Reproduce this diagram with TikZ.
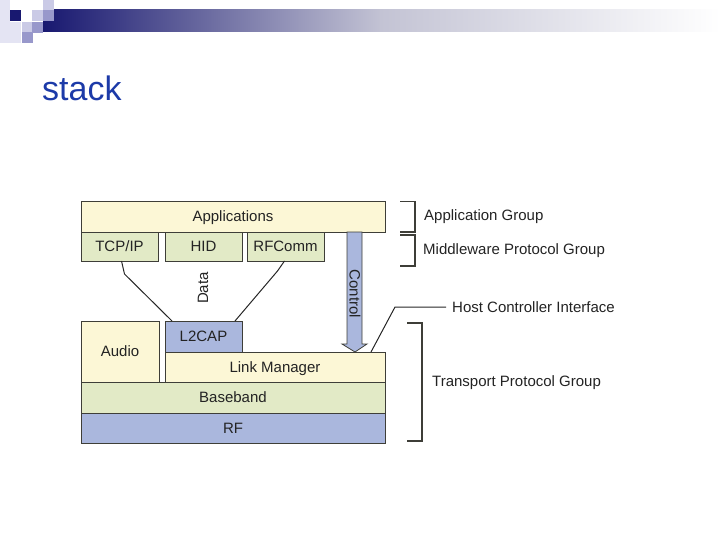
\documentclass[tikz,border=0pt]{standalone}
\usepackage{fontspec}
\setmainfont{Liberation Sans}
\definecolor{creamc}{RGB}{252,247,214}
\definecolor{greenc}{RGB}{226,234,198}
\definecolor{bluec}{RGB}{170,183,221}
\definecolor{edgec}{RGB}{62,62,56}
\definecolor{inkc}{RGB}{35,35,35}
\definecolor{navyc}{RGB}{24,24,112}
\definecolor{fadec}{RGB}{195,195,212}
\definecolor{titlec}{RGB}{28,58,168}
\definecolor{lavA}{RGB}{228,228,243}
\definecolor{lavB}{RGB}{202,202,230}
\definecolor{lavC}{RGB}{152,152,203}

\begin{document}
\begin{tikzpicture}[x=1pt,y=-1pt]
	\tikzset{layer/.style={draw=edgec, line width=0.8pt, inner sep=0pt, outer sep=0pt, anchor=north west, text=inkc, text height=10.5pt, text depth=0pt, font=\fontsize{15}{17}\selectfont},
		lbl/.style={anchor=west, inner sep=2pt, text=inkc, font=\fontsize{15}{17}\selectfont},
		wire/.style={draw=black!85, line width=1pt},
		brace/.style={draw=edgec, line width=1.1pt}}
	\def \rowh {31}
	\useasboundingbox (0,0) rectangle (720,540);
	
	% slide decoration
	\shade[left color=navyc, right color=fadec] (43,10) rectangle (381,32);
	\shade[left color=fadec, right color=white] (380,10) rectangle (720,32);
	\fill[lavA] (0,0) rectangle (10,43);
	\foreach \cx/\cy/\sq in {10/10/navyc, 10/22/lavA, 10/32/lavA, 22/22/lavB, 22/32/lavC, 32/10/lavB, 32/22/lavC, 43/0/lavB, 43/10/lavC}{
		\fill[\sq] (\cx,\cy) rectangle ++(11,11);
	}
	\node[anchor=base west, inner sep=0pt, text=titlec, font=\fontsize{34}{38}\selectfont] (title) at (42,101) {stack};
	
	% protocol stack
	\node[layer, fill=creamc, minimum width=304, minimum height=\rowh] (app) at (81,201) {Applications};
	\foreach \name/\xo/\txt in {tcp/81/{TCP/IP}, hid/165/HID, rfc/247/RFComm}{
		\node[layer, fill=greenc, minimum width=77, minimum height=29] (\name) at (\xo,232) {\txt};
	}
	\node[layer, fill=creamc, minimum width=78, minimum height=61] (audio) at (81,321) {Audio};
	\node[layer, fill=bluec, minimum width=77, minimum height=\rowh] (l2cap) at (165,321) {L2CAP};
	\node[layer, fill=creamc, minimum width=220, minimum height=30] (lm) at (165,352) {Link Manager};
	\node[layer, fill=greenc, minimum width=304, minimum height=\rowh] (bb) at (81,382) {Baseband};
	\node[layer, fill=bluec, minimum width=304, minimum height=30] (rf) at (81,413) {RF};
	
	% data paths
	\draw[wire] ([xshift=2pt]tcp.south) -- ++(3,13) -- ([xshift=7pt]l2cap.north west);
	\draw[wire] ([xshift=-1pt]rfc.south) -- ++(-7,10) -- ([xshift=-7pt]l2cap.north east);
	\node[rotate=90, text=inkc, font=\fontsize{15}{17}\selectfont] (data) at (203,288) {Data};
	
	% control arrow
	\coordinate (ctip) at (355,352);
	\filldraw[fill=bluec, draw=edgec, line width=0.8pt] (ctip) -- ++(-13,-8) -- ++(5,0) -- ++(0,-112) -- ++(15,0) -- ++(0,112) -- ++(5,0) -- cycle;
	\node[rotate=-90, text=inkc, font=\fontsize{15}{17}\selectfont] (ctrl) at (355,294) {Control};
	
	% host controller interface
	\node[lbl] (hci) at (450,307) {Host Controller Interface};
	\draw[wire, shorten >=4pt] ([xshift=-14pt]lm.north east) -- ++(24,-45) -- (hci.west);
	
	% groups
	\draw[brace] (400,201.5) -| (415,232) -- (400,232);
	\draw[brace] (400,235) -| (415,266) -- (400,266);
	\draw[brace] (407,323) -| (422,441) -- (407,441);
	\node[lbl] (appgrp) at (422,217) {Application Group};
	\node[lbl] (midgrp) at (421,251) {Middleware Protocol Group};
	\node[lbl] (trgrp) at (430,383) {Transport Protocol Group};
\end{tikzpicture}
\end{document}
